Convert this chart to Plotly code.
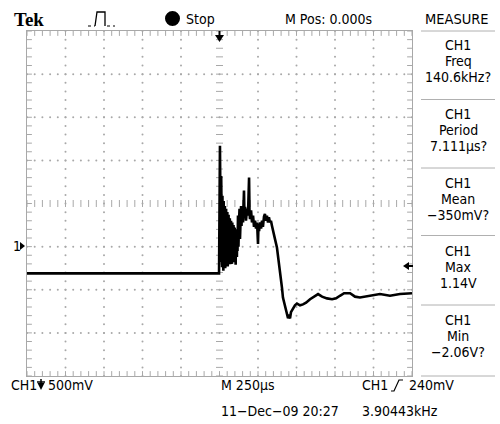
import numpy as np
import plotly.graph_objects as go

# Channel 1 record: time relative to the trigger (µs) and amplitude (V)
time_us = [-1250, -3, 3, 5, 7, 9, 11, 13, 15, 17, 19, 21, 23, 25, 27, 29, 31, 33,
           35, 37, 39, 41, 43, 45, 47, 49, 51, 53, 55, 57, 59, 61, 63, 65, 67, 69,
           71, 73, 75, 77, 79, 81, 83, 85, 87, 89, 91, 93, 95, 97, 99, 101, 103,
           105, 107, 109, 111, 113, 115, 117, 120, 123, 127, 130, 133, 140, 143,
           146, 153, 159, 162, 166, 172, 179, 185, 192, 195, 198, 205, 211, 218,
           224, 231, 237, 244, 250, 253, 257, 263, 270, 276, 282, 289, 295, 302,
           308, 315, 321, 328, 334, 341, 347, 360, 373, 386, 393, 406, 412, 425,
           438, 445, 451, 458, 464, 477, 490, 503, 523, 542, 562, 588, 614, 640,
           666, 698, 731, 757, 782, 809, 848, 880, 912, 945, 977, 1042, 1107,
           1172, 1250]
volts = [-0.31, -0.31, 1.17, -0.05, 0.70, -0.18, 0.82, -0.10, 0.62, -0.24, 0.59,
         -0.15, 0.55, -0.28, 0.53, -0.18, 0.50, -0.22, 0.47, -0.25, 0.46, -0.15,
         0.44, -0.22, 0.42, -0.18, 0.40, -0.23, 0.38, -0.16, 0.37, -0.20, 0.36,
         -0.14, 0.33, -0.20, 0.31, -0.17, 0.30, -0.12, 0.28, -0.20, 0.28, -0.12,
         0.27, -0.18, 0.25, -0.10, 0.24, -0.16, 0.22, -0.10, 0.21, -0.21, 0.20,
         -0.08, 0.19, -0.12, 0.18, -0.05, 0.36, 0.00, 0.30, 0.44, 0.09, 0.47, 0.24,
         0.45, 0.28, 0.65, 0.36, 0.46, 0.30, 0.44, 0.36, 0.80, 0.39, 0.32, 0.42,
         0.28, 0.36, 0.23, 0.30, 0.21, 0.28, 0.03, 0.25, 0.18, 0.28, 0.21, 0.30,
         0.23, 0.35, 0.38, 0.30, 0.36, 0.28, 0.34, 0.28, 0.30, 0.24, 0.18, 0.09,
         -0.01, -0.18, -0.31, -0.48, -0.59, -0.70, -0.79, -0.83, -0.81, -0.83,
         -0.76, -0.72, -0.68, -0.66, -0.68, -0.67, -0.65, -0.61, -0.58, -0.55,
         -0.58, -0.60, -0.61, -0.60, -0.57, -0.54, -0.54, -0.58, -0.59, -0.58,
         -0.57, -0.55, -0.57, -0.55, -0.54]

# Scope settings
volts_per_div = 0.5
us_per_div = 250
ground_div_below_center = 1

# Measurement panel
measure_blocks = [("CH1", "Freq", "140.6kHz?"),
                  ("CH1", "Period", "7.111µs?"),
                  ("CH1", "Mean", "\u2212350mV?"),
                  ("CH1", "Max", "1.14V"),
                  ("CH1", "Min", "\u22122.06V?")]

W, H = 500, 424
X0, X1, Y0, Y1 = 27, 412, 31, 376          # graticule box in pixels
FONT = "DejaVu Sans Condensed, Liberation Sans Narrow, sans-serif"
GRID = "#a8a8a8"

t_half = 5 * us_per_div
v_center = ground_div_below_center * volts_per_div
v_lo, v_hi = v_center - 4 * volts_per_div, v_center + 4 * volts_per_div


def px(x, y):
    return x / W, 1 - y / H


def path(points, close=True):
    s = ""
    for i, (x, y) in enumerate(points):
        u, v = px(x, y)
        s += ("M" if i == 0 else "L") + f"{u:.5f},{v:.5f} "
    return s + ("Z" if close else "")


fig = go.Figure()

# Dotted graticule
minor_t = np.arange(-t_half, t_half + 1, us_per_div / 5)
minor_v = np.round(np.arange(v_lo, v_hi + 1e-9, volts_per_div / 5), 3)
major_t = [t for t in np.arange(-t_half + us_per_div, t_half, us_per_div) if t != 0]
major_v = [v for v in np.arange(v_lo + volts_per_div, v_hi, volts_per_div)
           if abs(v - v_center) > 1e-9]
gx, gy = [], []
for t in major_t:
    gx += list(np.full(len(minor_v), t)); gy += list(minor_v)
for v in major_v:
    gx += list(minor_t); gy += list(np.full(len(minor_t), v))
fig.add_trace(go.Scatter(x=gx, y=gy, mode="markers", hoverinfo="skip",
                         marker=dict(size=2, color=GRID, line=dict(width=0))))


def ticks(x, y, symbol, size):
    fig.add_trace(go.Scatter(x=x, y=y, mode="markers", hoverinfo="skip", cliponaxis=True,
                             marker=dict(symbol=symbol, size=size, color=GRID,
                                         line=dict(width=1, color=GRID))))


# Centre cross ticks and border ticks
ticks(minor_t, np.full(len(minor_t), v_center), "line-ns", 5)
ticks(np.zeros(len(minor_v)), minor_v, "line-ew", 5)
ticks(list(minor_t) * 2, [v_hi] * len(minor_t) + [v_lo] * len(minor_t), "line-ns", 7)
ticks([-t_half] * len(minor_v) + [t_half] * len(minor_v), list(minor_v) * 2, "line-ew", 7)

# Waveform
fig.add_trace(go.Scatter(x=time_us, y=volts, mode="lines", hoverinfo="skip",
                         line=dict(color="black", width=2.6)))

shapes = []
ann = []


def text(s, x, y, anchor="left", size=14, family=FONT, color="black"):
    u, v = px(x, y)
    ann.append(dict(text=s, x=u, y=v, xref="paper", yref="paper", showarrow=False,
                    xanchor=anchor, yanchor="middle",
                    font=dict(family=family, size=size, color=color)))


def line(x0, y0, x1, y1, color="black", width=1, dash="solid"):
    a, b = px(x0, y0)
    c, d = px(x1, y1)
    shapes.append(dict(type="line", xref="paper", yref="paper", x0=a, y0=b, x1=c, y1=d,
                       line=dict(color=color, width=width, dash=dash)))


def poly(points, color="black", close=True, width=0):
    shapes.append(dict(type="path", xref="paper", yref="paper", path=path(points, close),
                       fillcolor=color if close else None,
                       line=dict(color=color, width=width)))


# Header
text("<b>Tek</b>", 12, 20, size=19, family="Liberation Serif, DejaVu Serif, serif")
line(88, 26, 95, 26, dash="dot", width=1.2)
poly([(95, 26), (97, 12), (105, 12), (105, 26)], close=False, width=1.3)
line(107, 26, 115, 26, dash="dot", width=1.2)
a, b = px(165, 11)
c, d = px(180, 26)
shapes.append(dict(type="circle", xref="paper", yref="paper", x0=a, y0=b, x1=c, y1=d,
                   fillcolor="black", line=dict(color="black", width=0)))
text("Stop", 184, 19)
text("M Pos: 0.000s", 328, 19, anchor="center")
text("MEASURE", 457, 19, anchor="center", size=14.5)

# Measurement panel
seps = [31, 99.5, 168, 235.5, 305, 376]
for y in seps:
    line(421, y, 495, y, color="#b0b0b0", width=1)
for i, (ch, name, val) in enumerate(measure_blocks):
    y = 45.5 + 68.5 * i
    for j, s in enumerate((ch, name, val)):
        text(s, 458, y + 16 * j, anchor="center")

# Trigger position marker (top) and trigger level marker (right)
line(219.5, 31, 219.5, 37, width=2)
poly([(215, 35), (224, 35), (219.5, 42)])
poly([(403, 266), (409, 262), (409, 270)])
line(408, 266, 413, 266, width=2)

# Channel ground marker
text("1", 11, 246, size=14)
poly([(20, 242), (20, 250), (25, 246)])

# Footer
text("CH1", 9, 385)
line(41, 379, 41, 384, width=1.5)
line(37, 382, 45, 382, width=1.5)
poly([(37.5, 383), (44.5, 383), (41, 390)])
text("500mV", 46, 385)
text("M 250µs", 219, 385)
text("CH1", 360, 385)
poly([(391, 391), (394, 391), (399, 380), (403, 380)], close=False, width=1.2)
text("240mV", 407, 385)
text("11\u2212Dec\u221209 20:27", 219, 411)
text("3.90443kHz", 360, 411)

axis_common = dict(showgrid=False, zeroline=False, showticklabels=False, ticks="",
                   showline=True, mirror=True, linecolor=GRID, linewidth=1, fixedrange=True)
fig.update_layout(
    width=W, height=H, margin=dict(l=0, r=0, t=0, b=0),
    paper_bgcolor="white", plot_bgcolor="white", showlegend=False,
    xaxis=dict(domain=[X0 / W, X1 / W], range=[-t_half, t_half], **axis_common),
    yaxis=dict(domain=[1 - Y1 / H, 1 - Y0 / H], range=[v_lo, v_hi], **axis_common),
    shapes=shapes, annotations=ann,
)

fig.write_html("out.html")
